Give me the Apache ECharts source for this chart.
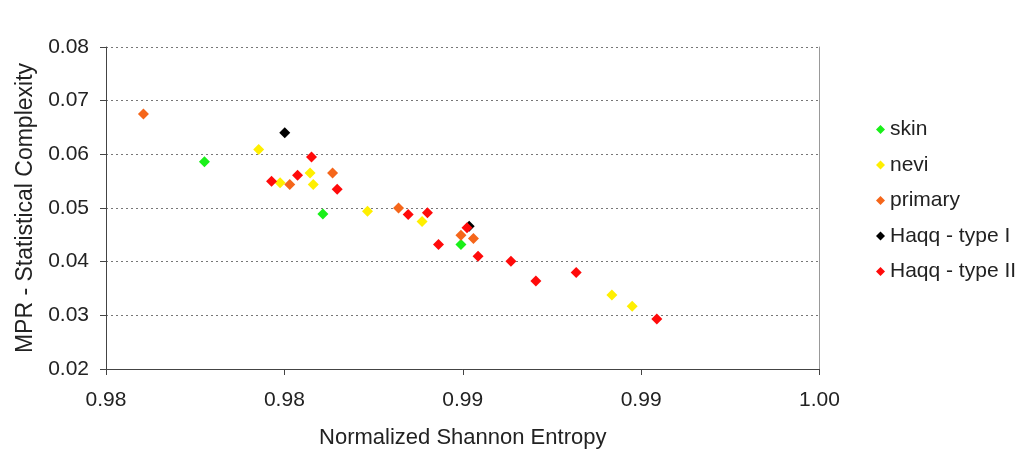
<!DOCTYPE html>
<html><head><meta charset="utf-8">
<script src="https://cdn.jsdelivr.net/npm/echarts@6/dist/echarts.min.js"></script>
<style>html,body{margin:0;padding:0;background:#fff}#c{width:1024px;height:450px}</style>
</head><body><div id="c"></div>
<script>
const seriesNames = ['skin', 'nevi', 'primary', 'Haqq - type I', 'Haqq - type II'];
const seriesColors = ['#19f019', '#ffef00', '#f5661a', '#000000', '#ff0a0a'];
const skin = [[0.98276, 0.0586], [0.98608, 0.0489], [0.98995, 0.0432]];
const nevi = [[0.98428, 0.0609], [0.98488, 0.0547], [0.98572, 0.0565], [0.98581, 0.0544], [0.98733, 0.0494], [0.98886, 0.0475], [0.99418, 0.0338], [0.99475, 0.0317]];
const primary = [[0.98105, 0.0675], [0.98515, 0.0544], [0.98635, 0.0565], [0.98820, 0.0500], [0.98995, 0.0449], [0.99030, 0.0443]];
const haqq1 = [[0.98501, 0.0640], [0.99018, 0.0466]];
const haqq2 = [[0.98464, 0.0550], [0.98537, 0.0561], [0.98576, 0.0595], [0.98648, 0.0535], [0.98847, 0.0488], [0.98901, 0.0491], [0.98932, 0.0432], [0.99012, 0.0463], [0.99043, 0.0410], [0.99135, 0.0401], [0.99205, 0.0364], [0.99318, 0.0380], [0.99544, 0.0293]];
const xTickLabels = ['0.98', '0.98', '0.99', '0.99', '1.00'];
const yTickLabels = ['0.02', '0.03', '0.04', '0.05', '0.06', '0.07', '0.08'];
const allData = [skin, nevi, primary, haqq1, haqq2];

const font = 'Liberation Sans, Arial, sans-serif';
const txt = '#222';
const chart = echarts.init(document.getElementById('c'));
chart.setOption({
  animation: false,
  backgroundColor: '#fff',
  grid: { left: 106, right: 204.5, top: 47, bottom: 81, containLabel: false, outerBoundsMode: 'none' },
  legend: {
    orient: 'vertical', left: 871, top: 114, itemGap: 14.5,
    itemWidth: 9, itemHeight: 9, icon: 'diamond',
    textStyle: { fontFamily: font, fontSize: 21, color: txt },
    data: seriesNames
  },
  xAxis: {
    type: 'value', min: 0.98, max: 1.0, interval: 0.005,
    name: 'Normalized Shannon Entropy', nameLocation: 'middle', nameGap: 58,
    nameTextStyle: { fontFamily: font, fontSize: 22, color: txt },
    axisLine: { show: true, lineStyle: { color: '#444', width: 1 } },
    axisTick: { show: true, inside: false, length: 6, lineStyle: { color: '#444' } },
    axisLabel: { fontFamily: font, fontSize: 21, color: txt, margin: 21,
      formatter: (v, i) => xTickLabels[i] },
    splitLine: { show: false }
  },
  yAxis: [{
    type: 'value', min: 0.02, max: 0.08, interval: 0.01,
    name: 'MPR - Statistical Complexity', nameLocation: 'middle', nameGap: 62,
    nameTextStyle: { fontFamily: font, fontSize: 23, color: txt },
    axisLine: { show: true, lineStyle: { color: '#444', width: 1 } },
    axisTick: { show: true, length: 6, lineStyle: { color: '#444' } },
    axisLabel: { fontFamily: font, fontSize: 21, color: txt, margin: 17,
      formatter: (v, i) => yTickLabels[i] },
    splitLine: { show: true, lineStyle: { color: '#777', type: [2, 3], width: 1.2 } }
  }, {
    type: 'value', min: 0.02, max: 0.08, interval: 0.01, position: 'right',
    axisLine: { show: true, lineStyle: { color: '#999', width: 1 } },
    axisTick: { show: false }, axisLabel: { show: false }, splitLine: { show: false }
  }],
  series: seriesNames.map((n, i) => ({
    name: n, type: 'scatter', symbol: 'diamond', symbolSize: 11,
    itemStyle: { color: seriesColors[i], opacity: 1 },
    data: allData[i]
  }))
});
</script></body></html>
